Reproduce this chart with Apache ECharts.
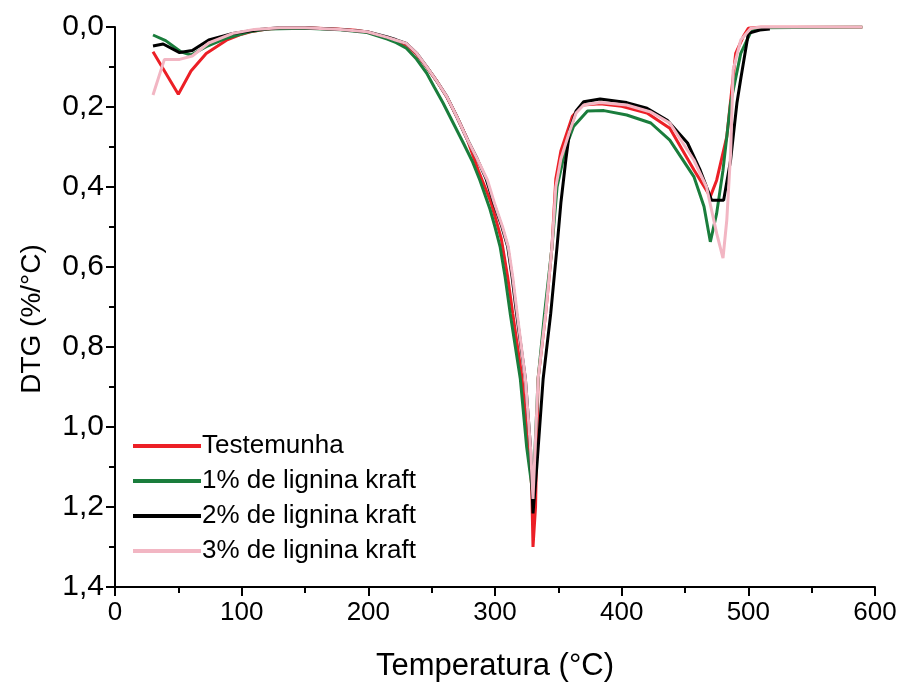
<!DOCTYPE html>
<html>
<head>
<meta charset="utf-8">
<script src="https://cdn.jsdelivr.net/npm/echarts@6/dist/echarts.min.js"></script>
<style>html,body{margin:0;padding:0;background:#fff}#c{width:898px;height:682px}</style>
</head>
<body>
<div id="c"></div>
<script>
// Series names
const seriesNames = ['Testemunha', '1% de lignina kraft', '2% de lignina kraft', '3% de lignina kraft'];
// Y tick labels
const yTicks = ['0,0','0,2','0,4','0,6','0,8','1,0','1,2','1,4'];

// Testemunha
const tempRed = [30,50,60,72,88,100,107,120,130,150,175,190,200,215,222,230,238,246,254,262,270,278,287,297,305,310,314,321,326,329,330,332,334,340,345,348,352,361,369,383,400,420,438,457,470,475,483,490,496,500,510,590];
const dtgRed  = [0.062,0.168,0.11,0.066,0.033,0.018,0.012,0.005,0.003,0.002,0.005,0.008,0.013,0.028,0.034,0.045,0.068,0.10,0.135,0.175,0.225,0.28,0.36,0.44,0.53,0.625,0.716,0.87,1.03,1.15,1.30,1.20,0.88,0.716,0.549,0.38,0.31,0.224,0.195,0.192,0.198,0.215,0.253,0.357,0.424,0.383,0.274,0.066,0.024,0.003,0.0,0.0];

// 1% de lignina kraft
const tempGreen = [30,40,52,60,72,88,106,120,150,178,199,215,222,230,238,246,252,259,267,275,282,288,296,300,304,308,312,320,325,330,334,339,345,349,356,362,373,386,404,423,438,457,465,470,475,480,486,494,502,510,590];
const dtgGreen  = [0.02,0.034,0.062,0.07,0.049,0.028,0.012,0.005,0.003,0.007,0.014,0.03,0.039,0.053,0.08,0.115,0.15,0.19,0.24,0.29,0.335,0.3825,0.455,0.50,0.549,0.625,0.716,0.88,1.05,1.17,0.88,0.72,0.55,0.40,0.30,0.249,0.21,0.209,0.22,0.24,0.283,0.374,0.449,0.537,0.466,0.358,0.19,0.066,0.012,0.002,0.0];

// 2% de lignina kraft
const tempBlack = [30,38,51,61,74,93,114,130,150,178,199,215,222,230,238,246,254,262,270,278,286,293,299,305.5,310,313.5,317,324,328,330,333,338,344,349,352,356,359,364,370,383,404,420,436,452,462,471,480.5,486,491,494,500,509,517];
const dtgBlack  = [0.0475,0.0425,0.064,0.059,0.0325,0.016,0.006,0.002,0.002,0.006,0.012,0.025,0.032,0.041,0.065,0.099,0.135,0.174,0.225,0.28,0.33,0.38,0.44,0.50,0.549,0.625,0.716,0.88,1.05,1.216,1.1,0.88,0.716,0.549,0.44,0.33,0.258,0.21,0.187,0.18,0.189,0.203,0.233,0.29,0.358,0.433,0.433,0.333,0.19,0.13,0.016,0.0075,0.005];

// 3% de lignina kraft
const tempPink = [30,39,51,61,74,93,110,130,150,178,199,215,222,230,238,246,254,262,270,278,286,294,299.5,306,310.5,314,317.5,324,328,330,334,340,345,348,352,359,364,370,383,404,423,438,457,467,475,480,483,486,488,494,502,510,590];
const dtgPink  = [0.17,0.081,0.081,0.0725,0.04,0.016,0.006,0.002,0.002,0.006,0.012,0.026,0.033,0.041,0.065,0.099,0.135,0.174,0.225,0.28,0.33,0.3825,0.44,0.50,0.55,0.625,0.716,0.88,1.05,1.18,0.88,0.716,0.549,0.40,0.33,0.26,0.215,0.195,0.189,0.195,0.2125,0.24,0.3325,0.40,0.516,0.578,0.4825,0.316,0.1075,0.0325,0.003,0.0,0.0];

const colors = ['#ec1f26', '#1a7d3c', '#000000', '#f2b6c3'];
const pairs = (xs, ys) => xs.map((x, i) => [x, ys[i]]);
const allData = [pairs(tempRed, dtgRed), pairs(tempGreen, dtgGreen), pairs(tempBlack, dtgBlack), pairs(tempPink, dtgPink)];

const FONT = 'Liberation Sans, Arial, sans-serif';
const chart = echarts.init(document.getElementById('c'), null, {renderer: 'canvas'});
chart.setOption({
  animation: false,
  backgroundColor: '#ffffff',
  grid: {left: 115, right: 23, top: 27, bottom: 95, containLabel: false, outerBoundsMode: 'none'},
  legend: {
    orient: 'vertical', left: 128, top: 428,
    itemWidth: 68, itemHeight: 4, itemGap: 9,
    icon: 'rect',
    data: seriesNames,
    textStyle: {fontFamily: FONT, fontSize: 26, color: '#000', padding: [0,0,0,-4]}
  },
  graphic: [{
    type: 'text', x: 32, y: 319, rotation: Math.PI / 2,
    style: {text: 'DTG (%/°C)', fontFamily: FONT, fontSize: 28, fill: '#000',
      textAlign: 'center', textVerticalAlign: 'middle'}
  }],
  xAxis: {
    type: 'value', min: 0, max: 600, interval: 100,
    name: 'Temperatura (°C)', nameLocation: 'middle', nameGap: 64,
    nameTextStyle: {fontFamily: FONT, fontSize: 31, color: '#000'},
    axisLine: {show: true, onZero: false, lineStyle: {color: '#000', width: 2}},
    axisTick: {show: true, inside: false, length: 9, lineStyle: {color: '#000', width: 2}},
    minorTick: {show: true, splitNumber: 2, length: 6, lineStyle: {color: '#000', width: 2}},
    axisLabel: {fontFamily: FONT, fontSize: 26, color: '#000', margin: 13},
    splitLine: {show: false}
  },
  yAxis: {
    type: 'value', min: 0, max: 1.4, interval: 0.2, inverse: true,
    axisLine: {show: true, onZero: false, lineStyle: {color: '#000', width: 2}},
    axisTick: {show: true, inside: false, length: 9, lineStyle: {color: '#000', width: 2}},
    minorTick: {show: true, splitNumber: 2, length: 6, lineStyle: {color: '#000', width: 2}},
    axisLabel: {fontFamily: FONT, fontSize: 30, color: '#000', margin: 11,
      formatter: (v) => yTicks[Math.round(v / 0.2)] },
    splitLine: {show: false}
  },
  series: seriesNames.map((n, i) => ({
    name: n, type: 'line', data: allData[i],
    showSymbol: false, symbol: 'none', smooth: false,
    lineStyle: {color: colors[i], width: 3},
    itemStyle: {color: colors[i]},
    z: 2 + i
  }))
});
</script>
</body>
</html>
